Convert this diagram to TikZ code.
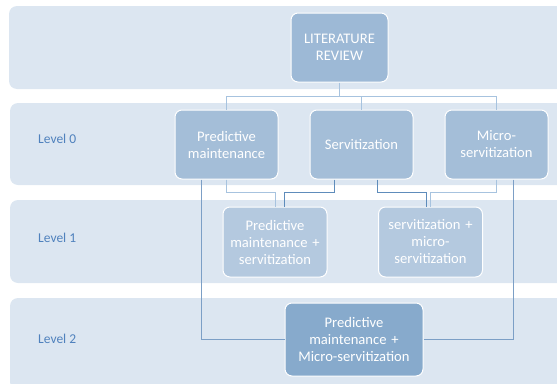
\documentclass[tikz,border=0pt]{standalone}
\usepackage{fontspec}
\setmainfont{Carlito}
\usetikzlibrary{positioning}
\definecolor{bandfill}{HTML}{DCE6F1}
\definecolor{topfill}{HTML}{9DB9D6}
\definecolor{lvlzero}{HTML}{A4BED8}
\definecolor{lvlone}{HTML}{B4C9DF}
\definecolor{lvltwo}{HTML}{87AACC}
\definecolor{litelink}{HTML}{A7C3DF}
\definecolor{darklink}{HTML}{5E8CBB}
\definecolor{midlink}{HTML}{7C9FC6}
\definecolor{lbltext}{HTML}{4F81BD}
\tikzset{
    % background bands
    band/.style={
           fill=bandfill,
           rounded corners=8pt},
    % boxes
    kasse/.style={
           rectangle,
           rounded corners=7pt,
           draw=white, line width=1pt,
           inner sep=0pt,
           text=white,
           font=\fontsize{14.6}{17}\selectfont,
           align=center},
    lbl/.style={
           text=lbltext,
           anchor=west,
           inner sep=0pt,
           font=\fontsize{13.5}{16}\selectfont},
    % links
    lite/.style={litelink, line width=1pt},
    dark/.style={darklink, line width=1pt},
    mid/.style={midlink, line width=1pt}
}
\begin{document}
\begin{tikzpicture}[x=1pt, y=-1pt]
 \useasboundingbox (0,0) rectangle (557,383);
 \fill[band] (9,6) rectangle (565,89);
 \fill[band] (10,103) rectangle (565,185);
 \fill[band] (10,200) rectangle (565,283);
 \fill[band] (10,298) rectangle (565,390);

 \node[lbl] (lvl0) at (38,139) {Level 0};
 \node[lbl] (lvl1) at (38,238) {Level 1};
 \node[lbl] (lvl2) at (38,339) {Level 2};

 \node[kasse, fill=topfill, minimum width=97pt, minimum height=69pt, text width=90pt] (lr) at (339.5,47.5) {LITERATURE\\REVIEW};
 \node[kasse, fill=lvlzero, minimum width=103pt, minimum height=69pt, text width=96pt] (pm) at (226.5,144.5) {Predictive\\maintenance};
 \node[kasse, fill=lvlzero, minimum width=103pt, minimum height=69pt, text width=96pt] (sv) at (361.5,144.5) {Servitization};
 \node[kasse, fill=lvlzero, minimum width=103pt, minimum height=69pt, text width=96pt] (ms) at (496.5,144.5) {Micro-\\servitization};
 \node[kasse, fill=lvlone, minimum width=104pt, minimum height=70pt, text width=98pt] (pms) at (275,242) {Predictive\\maintenance +\\servitization};
 \node[kasse, fill=lvlone, minimum width=104pt, minimum height=70pt, text width=98pt] (sms) at (430.5,242) {servitization +\\micro-\\servitization};
 \node[kasse, fill=lvltwo, minimum width=138pt, minimum height=73pt, text width=130pt] (pmms) at (354,339.5) {Predictive\\maintenance +\\Micro-servitization};

 % top level
 \draw[lite] (lr.south) -- ++(0,14) coordinate (split);
 \draw[lite] (pm.north) |- (split) -| (ms.north);
 \draw[lite] (sv.north) -- (sv.north |- split);

 % level 0 to level 1
 \draw[lite] (pm.south) -- ++(0,13) -| (pms.north);
 \draw[dark] ([xshift=-27.5pt]sv.south) -- ++(0,13) -| ([xshift=9pt]pms.north);
 \draw[dark] ([xshift=15.5pt]sv.south) -- ++(0,13) -| ([xshift=-4.5pt]sms.north);
 \draw[lite] (ms.south) -- ++(0,13) -| (sms.north);

 % level 0 to level 2
 \draw[mid] ([xshift=-25.5pt]pm.south) |- (pmms.west);
 \draw[mid] ([xshift=16.5pt]ms.south) |- (pmms.east);
\end{tikzpicture}
\end{document}
